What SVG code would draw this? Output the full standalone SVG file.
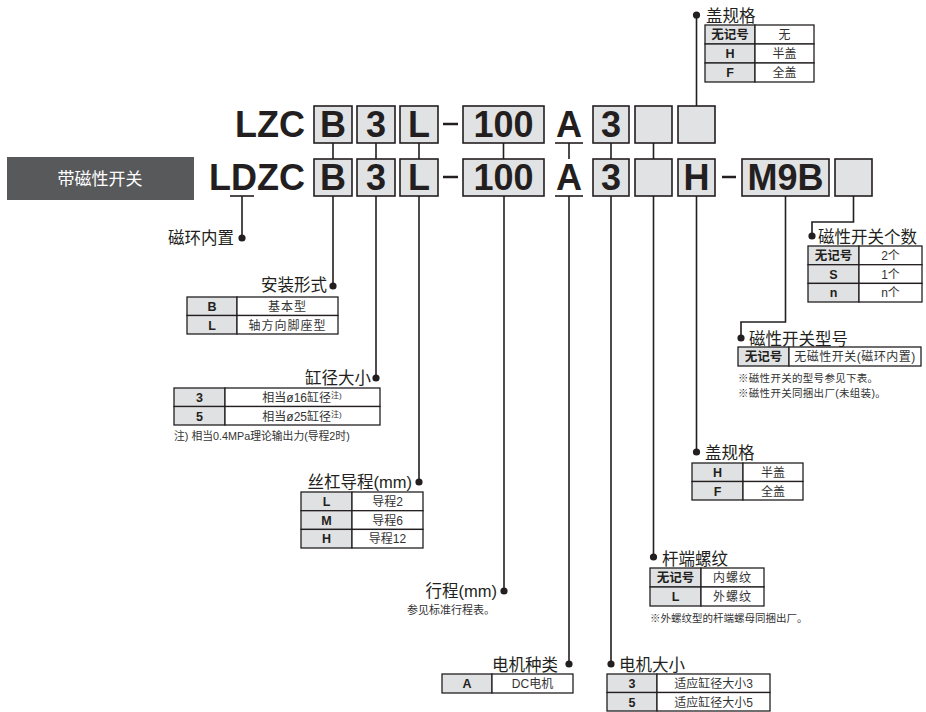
<svg xmlns="http://www.w3.org/2000/svg" width="926" height="712" viewBox="0 0 926 712">
<style>
text{font-family:"Liberation Sans","Noto Sans CJK SC",sans-serif;fill:#231f20}
.big{font-size:36px;font-weight:bold}
.bx{fill:#e1e2e3;stroke:#231f20;stroke-width:1.6}
.ttl{font-size:16.5px}
.tg{fill:#e0e1e2;stroke:#231f20;stroke-width:1.3}
.tw{fill:#fff;stroke:#231f20;stroke-width:1.3}
.th{font-size:12.5px;font-weight:bold;text-anchor:middle}
.td{font-size:12px;text-anchor:middle;fill:#333}
.nt{font-size:10.5px;fill:#333}
.ln{fill:none;stroke:#231f20;stroke-width:1.6}
.dot{fill:#231f20}
</style>
<g id="badge">
<rect x="7" y="157" width="187" height="43" fill="#58595b"/>
<text x="100" y="185" style="font-size:17px;fill:#fff" text-anchor="middle">带磁性开关</text>
</g>
<g id="row1">
<text class="big" x="305" y="137" text-anchor="end">LZC</text>
<rect class="bx" x="314" y="106" width="38" height="37"/><text class="big" x="333" y="137" text-anchor="middle">B</text>
<rect class="bx" x="357" y="106" width="38" height="37"/><text class="big" x="376" y="137" text-anchor="middle">3</text>
<rect class="bx" x="400" y="106" width="38" height="37"/><text class="big" x="419" y="137" text-anchor="middle">L</text>
<line x1="443" y1="124" x2="458" y2="124" stroke="#231f20" stroke-width="2.5"/>
<rect class="bx" x="463" y="106" width="81" height="37"/><text class="big" x="503.5" y="137" text-anchor="middle">100</text>
<text class="big" x="569" y="137" text-anchor="middle">A</text>
<line x1="555" y1="143" x2="583" y2="143" stroke="#231f20" stroke-width="1.6"/>
<rect class="bx" x="593" y="106" width="36" height="37"/><text class="big" x="611" y="137" text-anchor="middle">3</text>
<rect class="bx" x="635" y="106" width="37" height="37"/>
<rect class="bx" x="678" y="106" width="37" height="37"/>
</g>
<g id="row2">
<text class="big" x="305" y="190" text-anchor="end">LDZC</text>
<line x1="230" y1="196" x2="254" y2="196" stroke="#231f20" stroke-width="1.6"/>
<rect class="bx" x="314" y="159" width="38" height="37"/><text class="big" x="333" y="190" text-anchor="middle">B</text>
<rect class="bx" x="357" y="159" width="38" height="37"/><text class="big" x="376" y="190" text-anchor="middle">3</text>
<rect class="bx" x="400" y="159" width="38" height="37"/><text class="big" x="419" y="190" text-anchor="middle">L</text>
<line x1="443" y1="177" x2="458" y2="177" stroke="#231f20" stroke-width="2.5"/>
<rect class="bx" x="463" y="159" width="81" height="37"/><text class="big" x="503.5" y="190" text-anchor="middle">100</text>
<text class="big" x="569" y="190" text-anchor="middle">A</text>
<line x1="555" y1="196" x2="583" y2="196" stroke="#231f20" stroke-width="1.6"/>
<rect class="bx" x="593" y="159" width="36" height="37"/><text class="big" x="611" y="190" text-anchor="middle">3</text>
<rect class="bx" x="635" y="159" width="37" height="37"/>
<rect class="bx" x="678" y="159" width="37" height="37"/><text class="big" x="696.5" y="190" text-anchor="middle">H</text>
<line x1="722" y1="177" x2="736" y2="177" stroke="#231f20" stroke-width="2.5"/>
<rect class="bx" x="742" y="159" width="87" height="37"/><text class="big" x="785.5" y="190" text-anchor="middle">M9B</text>
<rect class="bx" x="835" y="159" width="37" height="37"/>
</g>
<g id="connectors">
<path class="ln" d="M333 143V159M376 143V159M419 143V159M503.5 143V159M569 143V159M611 143V159M653.5 143V159"/>
<path class="ln" d="M696.5 106V15"/>
<path class="ln" d="M242 196V238M333 196V286M376 196V378M419 196V482M504 196V591M569 196V664M611 196V664M653.5 196V557M696.5 196V452"/>
<path class="ln" d="M785.5 196V322H741V338M853.5 196V222H812V236"/>
<circle class="dot" cx="696.5" cy="15" r="3.6"/>
<circle class="dot" cx="242" cy="238" r="3.6"/>
<circle class="dot" cx="333" cy="286" r="3.6"/>
<circle class="dot" cx="376" cy="378" r="3.6"/>
<circle class="dot" cx="419" cy="482" r="3.6"/>
<circle class="dot" cx="504" cy="591" r="3.6"/>
<circle class="dot" cx="569" cy="664" r="3.6"/>
<circle class="dot" cx="611" cy="664" r="3.6"/>
<circle class="dot" cx="653.5" cy="557" r="3.6"/>
<circle class="dot" cx="696.5" cy="452" r="3.6"/>
<circle class="dot" cx="741" cy="338" r="3.6"/>
<circle class="dot" cx="812" cy="236" r="3.6"/>
</g>
<g id="cover-top">
<text class="ttl" x="706" y="22">盖规格</text>
<rect class="tg" x="705" y="25" width="50" height="19"/><rect class="tw" x="755" y="25" width="59" height="19"/>
<rect class="tg" x="705" y="44" width="50" height="19"/><rect class="tw" x="755" y="44" width="59" height="19"/>
<rect class="tg" x="705" y="63" width="50" height="19"/><rect class="tw" x="755" y="63" width="59" height="19"/>
<text class="th" x="730" y="39">无记号</text><text class="td" x="784.5" y="39">无</text>
<text class="th" x="730" y="58">H</text><text class="td" x="784.5" y="58">半盖</text>
<text class="th" x="730" y="77">F</text><text class="td" x="784.5" y="77">全盖</text>
</g>
<g id="magnet-ring">
<text class="ttl" x="234" y="244" text-anchor="end">磁环内置</text>
</g>
<g id="mounting">
<text class="ttl" x="327" y="291" text-anchor="end">安装形式</text>
<rect class="tg" x="187" y="297" width="50" height="18.5"/><rect class="tw" x="237" y="297" width="101" height="18.5"/>
<rect class="tg" x="187" y="315.5" width="50" height="18.5"/><rect class="tw" x="237" y="315.5" width="101" height="18.5"/>
<text class="th" x="212" y="311">B</text><text class="td" x="287.5" y="311" letter-spacing="1">基本型</text>
<text class="th" x="212" y="329.5">L</text><text class="td" x="287.5" y="329.5" letter-spacing="1">轴方向脚座型</text>
</g>
<g id="bore">
<text class="ttl" x="371" y="384" text-anchor="end">缸径大小</text>
<rect class="tg" x="174" y="388" width="51" height="18.5"/><rect class="tw" x="225" y="388" width="155" height="18.5"/>
<rect class="tg" x="174" y="406.5" width="51" height="18.5"/><rect class="tw" x="225" y="406.5" width="155" height="18.5"/>
<text class="th" x="199.5" y="402">3</text><text class="td" x="302" y="402">相当ø16缸径<tspan font-size="8" dy="-4">注)</tspan></text>
<text class="th" x="199.5" y="420.5">5</text><text class="td" x="302" y="420.5">相当ø25缸径<tspan font-size="8" dy="-4">注)</tspan></text>
<text class="nt" x="174" y="440" style="font-size:10.8px">注) 相当0.4MPa理论输出力(导程2时)</text>
</g>
<g id="lead">
<text class="ttl" x="412" y="488" text-anchor="end">丝杠导程(mm)</text>
<rect class="tg" x="301" y="492" width="51" height="18.7"/><rect class="tw" x="352" y="492" width="71" height="18.7"/>
<rect class="tg" x="301" y="510.7" width="51" height="18.7"/><rect class="tw" x="352" y="510.7" width="71" height="18.7"/>
<rect class="tg" x="301" y="529.4" width="51" height="18.6"/><rect class="tw" x="352" y="529.4" width="71" height="18.6"/>
<text class="th" x="326.5" y="506">L</text><text class="td" x="387.5" y="506">导程2</text>
<text class="th" x="326.5" y="524.7">M</text><text class="td" x="387.5" y="524.7">导程6</text>
<text class="th" x="326.5" y="543.4">H</text><text class="td" x="387.5" y="543.4">导程12</text>
</g>
<g id="stroke">
<text class="ttl" x="497" y="597" text-anchor="end">行程(mm)</text>
<text class="nt" x="495" y="614" text-anchor="end" style="font-size:11px">参见标准行程表。</text>
</g>
<g id="motor-type">
<text class="ttl" x="558" y="671" text-anchor="end">电机种类</text>
<rect class="tg" x="442" y="674" width="50" height="19"/><rect class="tw" x="492" y="674" width="81" height="19"/>
<text class="th" x="467" y="688">A</text><text class="td" x="532.5" y="688">DC电机</text>
</g>
<g id="motor-size">
<text class="ttl" x="619" y="671">电机大小</text>
<rect class="tg" x="607" y="674" width="50" height="18.5"/><rect class="tw" x="657" y="674" width="113" height="18.5"/>
<rect class="tg" x="607" y="692.5" width="50" height="18.5"/><rect class="tw" x="657" y="692.5" width="113" height="18.5"/>
<text class="th" x="632" y="688">3</text><text class="td" x="713.5" y="688">适应缸径大小3</text>
<text class="th" x="632" y="706.5">5</text><text class="td" x="713.5" y="706.5">适应缸径大小5</text>
</g>
<g id="rod-thread">
<text class="ttl" x="662" y="565">杆端螺纹</text>
<rect class="tg" x="650" y="568" width="51" height="19"/><rect class="tw" x="701" y="568" width="63" height="19"/>
<rect class="tg" x="650" y="587" width="51" height="19"/><rect class="tw" x="701" y="587" width="63" height="19"/>
<text class="th" x="675.5" y="582">无记号</text><text class="td" x="732.5" y="582" letter-spacing="1">内螺纹</text>
<text class="th" x="675.5" y="601">L</text><text class="td" x="732.5" y="601" letter-spacing="1">外螺纹</text>
<text class="nt" x="650" y="622">※外螺纹型的杆端螺母同捆出厂。</text>
</g>
<g id="cover-bottom">
<text class="ttl" x="705" y="459">盖规格</text>
<rect class="tg" x="692" y="463" width="51" height="18.5"/><rect class="tw" x="743" y="463" width="60" height="18.5"/>
<rect class="tg" x="692" y="481.5" width="51" height="18.5"/><rect class="tw" x="743" y="481.5" width="60" height="18.5"/>
<text class="th" x="717.5" y="477">H</text><text class="td" x="773" y="477">半盖</text>
<text class="th" x="717.5" y="495.5">F</text><text class="td" x="773" y="495.5">全盖</text>
</g>
<g id="switch-model">
<text class="ttl" x="749" y="345">磁性开关型号</text>
<rect class="tg" x="738" y="347" width="51" height="19"/><rect class="tw" x="789" y="347" width="132" height="19"/>
<text class="th" x="763.5" y="361">无记号</text><text class="td" x="855" y="361" letter-spacing="0.5">无磁性开关(磁环内置)</text>
<text class="nt" x="738" y="382" letter-spacing="0.3">※磁性开关的型号参见下表。</text>
<text class="nt" x="738" y="397" letter-spacing="0.3">※磁性开关同捆出厂(未组装)。</text>
</g>
<g id="switch-count">
<text class="ttl" x="818" y="243">磁性开关个数</text>
<rect class="tg" x="808" y="246" width="51" height="18.7"/><rect class="tw" x="859" y="246" width="63" height="18.7"/>
<rect class="tg" x="808" y="264.7" width="51" height="18.7"/><rect class="tw" x="859" y="264.7" width="63" height="18.7"/>
<rect class="tg" x="808" y="283.4" width="51" height="18.6"/><rect class="tw" x="859" y="283.4" width="63" height="18.6"/>
<text class="th" x="833.5" y="260">无记号</text><text class="td" x="890.5" y="260">2个</text>
<text class="th" x="833.5" y="278.7">S</text><text class="td" x="890.5" y="278.7">1个</text>
<text class="th" x="833.5" y="297.4">n</text><text class="td" x="890.5" y="297.4">n个</text>
</g>
</svg>
